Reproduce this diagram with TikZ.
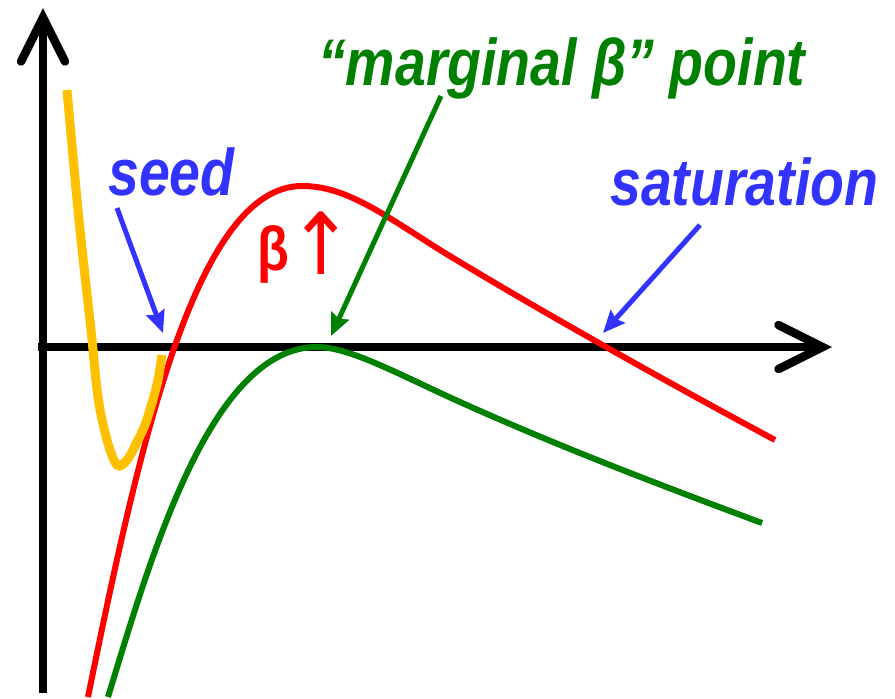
\documentclass[tikz,border=0pt]{standalone}
\usepackage{fontspec}
\setmainfont{Liberation Sans}
\newfontfamily\arrowfont{DejaVu Sans}
\usepackage{graphicx}
\usetikzlibrary{arrows.meta}
\definecolor{seedblue}{RGB}{51,51,255}
\definecolor{peakgreen}{RGB}{0,128,0}
\definecolor{amber}{RGB}{255,192,0}
\newcommand{\narrowtext}[1]{\scalebox{0.84}[1]{#1}}

\begin{document}
\begin{tikzpicture}[x=1pt, y=-1pt,
    axisline/.style={line width=8.5pt, -{Straight Barb[length=44pt,width=44pt,line cap=round]}},
    curveline/.style={line width=6pt},
    callout/.style={line width=5pt, -{Stealth[length=22pt,width=19pt,inset=3pt]}},
    note/.style={inner sep=0pt, anchor=base west, font=\fontsize{66pt}{70pt}\selectfont\bfseries\itshape}]
    \useasboundingbox (0,0) rectangle (895,699);

    % axes
    \coordinate (xstart) at (38,347);
    \coordinate (xend) at (832,347);
    \coordinate (ystart) at (43,693);
    \coordinate (yend) at (43,8);
    \draw[axisline] (xstart) -- (xend);
    \draw[axisline] (ystart) -- (yend);

    % curves
    \draw[curveline, red] (88,697) .. controls (138,452) and (195,186) .. (302,186)
        .. controls (345,186) and (380,212) .. (440,250)
        .. controls (520,299) and (650,373) .. (775,440);
    \draw[curveline, peakgreen] (108,697) .. controls (150,560) and (210,347) .. (317,347)
        .. controls (350,347) and (400,375) .. (460,402)
        .. controls (560,447) and (660,485) .. (762,523);
    \draw[line width=9pt, amber] plot[smooth, tension=0.55] coordinates {(67,90) (79,220) (91,330) (98,397) (107,440) (117,465) (127,460) (137,442) (145,425) (152,403) (158,380) (162,355)};

    % labels
    \node[note, seedblue] (seed) at (108,195) {\narrowtext{seed}};
    \node[note, peakgreen] (marginal) at (318,85) {\narrowtext{“marginal β” point}};
    \node[note, seedblue] (saturation) at (610,205) {\narrowtext{saturation}};
    \node[note, red, font=\fontsize{62pt}{66pt}\selectfont\bfseries] (betaup) at (257,270) {\narrowtext{β\raisebox{-4pt}{\scalebox{1.5}[1.38]{\arrowfont\mdseries ↑}}}};

    % pointers
    \coordinate (seedtail) at (117,208);
    \coordinate (seedtip) at (163,333);
    \coordinate (marginaltail) at (441,96);
    \coordinate (marginaltip) at (331,336);
    \coordinate (saturationtail) at (700,225);
    \coordinate (saturationtip) at (603,333);
    \draw[callout, seedblue] (seedtail) -- (seedtip);
    \draw[callout, peakgreen] (marginaltail) -- (marginaltip);
    \draw[callout, seedblue] (saturationtail) -- (saturationtip);
\end{tikzpicture}
\end{document}
